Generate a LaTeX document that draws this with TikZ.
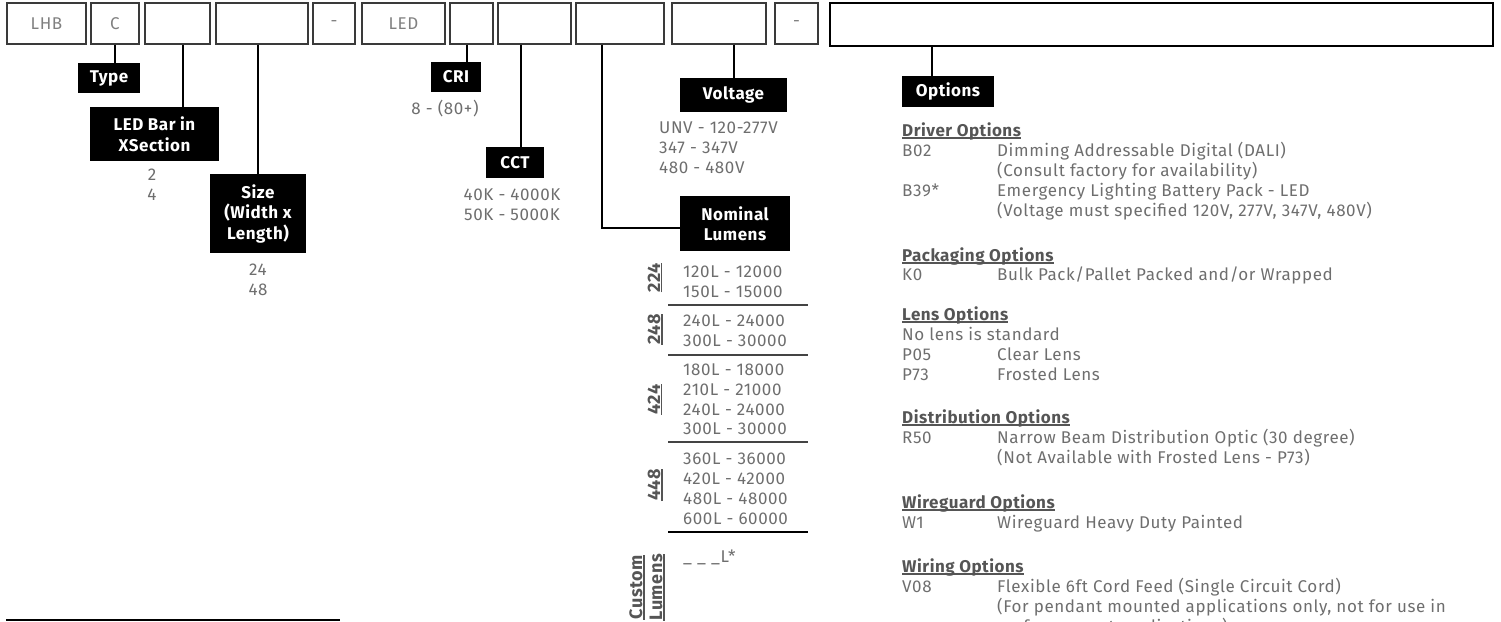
\documentclass[tikz,border=0pt]{standalone}
\usepackage{fontspec}
\setmainfont{Fira Sans}[LetterSpace=3]
\newfontfamily\bodyf{Fira Sans}[LetterSpace=3.5]
\definecolor{boxc}{HTML}{3A3A3A}
\definecolor{boxtxt}{HTML}{808080}
\definecolor{valc}{HTML}{6E6E6E}
\definecolor{headc}{HTML}{555555}
\definecolor{sepc}{HTML}{444444}
\begin{document}
\begin{tikzpicture}[x=1pt,y=-1pt,
  topbox/.style={draw=boxc, line width=1.3pt, minimum height=41pt, inner sep=0pt, text=boxtxt, font=\bodyf\fontsize{17}{20}\selectfont},
  lbl/.style={fill=black, text=white, font=\bfseries\fontsize{17}{20.5}\selectfont, align=center, inner sep=0pt},
  val/.style={text=valc, font=\bodyf\fontsize{17}{20}\selectfont, inner sep=0pt},
  hd/.style={text=headc, font=\bfseries\fontsize{17}{20}\selectfont, inner sep=0pt, anchor=base west},
  rot/.style={text=headc, font=\bfseries\fontsize{18}{20}\selectfont, inner sep=0pt, rotate=90},
  conn/.style={draw=black, line width=1.2pt},
  ul/.style={draw=headc, line width=1.2pt},
  sepline/.style={draw=sepc, line width=1.5pt}
]
\useasboundingbox (0,0) rectangle (1501,621);

% ---- top code boxes
\node[topbox, minimum width=79pt] (b1) at (46.5,23.5) {LHB};
\node[topbox, minimum width=48pt] (b2) at (115,23.5) {C};
\node[topbox, minimum width=65pt] (b3) at (177.5,23.5) {};
\node[topbox, minimum width=92pt] (b4) at (262,23.5) {};
\node[topbox, minimum width=42pt] (b5) at (334,23.5) {-};
\node[topbox, minimum width=83pt] (b6) at (403.5,23.5) {LED};
\node[topbox, minimum width=43pt] (b7) at (471.5,23.5) {};
\node[topbox, minimum width=73pt] (b8) at (534.5,23.5) {};
\node[topbox, minimum width=88pt] (b9) at (620,23.5) {};
\node[topbox, minimum width=94pt] (b10) at (719,23.5) {};
\node[topbox, minimum width=43pt] (b11) at (796.5,23.5) {-};
\node[topbox, draw=black, line width=1.8pt, minimum width=663pt, minimum height=43pt] (b12) at (1161.5,24.5) {};

% ---- black labels
\node[lbl, minimum width=62pt, minimum height=30pt] (type) at (109,78) {Type};
\node[lbl, minimum width=129pt, minimum height=54pt] (ledbar) at (154.5,134) {LED Bar in\\XSection};
\node[lbl, minimum width=96pt, minimum height=79pt] (size) at (258,213.5) {Size\\(Width x\\Length)};
\node[lbl, minimum width=50pt, minimum height=30pt] (cri) at (456,77) {CRI};
\node[lbl, minimum width=58pt, minimum height=31pt] (cct) at (515,162.5) {CCT};
\node[lbl, minimum width=107pt, minimum height=34pt] (volt) at (733.5,95) {Voltage};
\node[lbl, minimum width=110pt, minimum height=55pt] (lumens) at (735,223.5) {Nominal\\Lumens};
\node[lbl, minimum width=92pt, minimum height=31pt] (opt) at (948,91.5) {Options};

% ---- connectors
\path (b2.south) coordinate (c2);
\path (b3.south) ++(5.5,0) coordinate (c3);
\path (b4.south) ++(-4,0) coordinate (c4);
\path (b7.south) ++(-4.5,0) coordinate (c7);
\path (b8.south) ++(-13.5,0) coordinate (c8);
\path (b9.south) ++(-18,0) coordinate (c9);
\path (b10.south) ++(15,0) coordinate (c10);
\path (b12.south) ++(-229.5,0) coordinate (c12);
\draw[conn] (c2) -- (c2 |- type.north);
\draw[conn] (c3) -- (c3 |- ledbar.north);
\draw[conn] (c4) -- (c4 |- size.north);
\draw[conn] (c7) -- (c7 |- cri.north);
\draw[conn] (c8) -- (c8 |- cct.north);
\draw[conn] (c9) |- ([yshift=-4.5pt]lumens.west);
\draw[conn] (c10) -- (c10 |- volt.north);
\draw[conn] (c12) -- (c12 |- opt.north);

% ---- values
\node[val, anchor=base] (v2) at (152,180) {2};
\node[val, anchor=base] (v4) at (152,200) {4};
\node[val, anchor=base] (v24) at (258,275) {24};
\node[val, anchor=base] (v48) at (258,295) {48};
\node[val, anchor=base] (v8) at (445,114) {8 - (80+)};
\node[val, anchor=base] (v40) at (512,200) {40K - 4000K};
\node[val, anchor=base] (v50) at (512,220) {50K - 5000K};
\node[val, anchor=base west] (vu) at (659,133) {UNV - 120-277V};
\node[val, anchor=base west] (v347) at (659,153) {347 - 347V};
\node[val, anchor=base west] (v480) at (659,173) {480 - 480V};

% ---- lumens table
\node[val, anchor=base west] (l1) at (683,277) {120L - 12000};
\node[val, anchor=base west] (l2) at (683,297) {150L - 15000};
\node[val, anchor=base west] (l3) at (683,326) {240L - 24000};
\node[val, anchor=base west] (l4) at (683,346) {300L - 30000};
\node[val, anchor=base west] (l5) at (683,375) {180L - 18000};
\node[val, anchor=base west] (l6) at (683,395) {210L - 21000};
\node[val, anchor=base west] (l7) at (683,415) {240L - 24000};
\node[val, anchor=base west] (l8) at (683,434) {300L - 30000};
\node[val, anchor=base west] (l9) at (683,464) {360L - 36000};
\node[val, anchor=base west] (l10) at (683,484) {420L - 42000};
\node[val, anchor=base west] (l11) at (683,504) {480L - 48000};
\node[val, anchor=base west] (l12) at (683,524) {600L - 60000};
\node[val, anchor=base west] (l13) at (683,562) {\_ \_ \_L*};
\draw[sepline] (668,305) -- (808,305);
\draw[sepline] (668,355) -- (808,355);
\draw[sepline] (668,442) -- (808,442);
\draw[sepline, draw=black] (668,532) -- (808,532);

\node[rot, anchor=base] (r224) at (660,277.5) {224};
\node[rot, anchor=base] (r248) at (660,329.5) {248};
\node[rot, anchor=base] (r424) at (660,399.5) {424};
\node[rot, anchor=base] (r448) at (660,485) {448};
\node[rot, anchor=base east] (rcus) at (642,555) {Custom};
\node[rot, anchor=base east] (rlum) at (662,554) {Lumens};
\foreach \n in {r224,r248,r424,r448,rcus,rlum}{
  \draw[ul] ([xshift=1.5pt]\n.south west) -- ([xshift=1.5pt]\n.south east);
}

% ---- options text
\node[hd] (hdrv) at (902,136) {Driver Options};
\node[val, anchor=base west] (o1a) at (902,156) {B02};
\node[val, anchor=base west] (o1b) at (997,156) {Dimming Addressable Digital (DALI)};
\node[val, anchor=base west] (o1c) at (997,176) {(Consult factory for availability)};
\node[val, anchor=base west] (o2a) at (902,196) {B39*};
\node[val, anchor=base west] (o2b) at (997,196) {Emergency Lighting Battery Pack - LED};
\node[val, anchor=base west] (o2c) at (997,216) {(Voltage must specified 120V, 277V, 347V, 480V)};

\node[hd] (hpkg) at (902,261) {Packaging Options};
\node[val, anchor=base west] (o3a) at (902,280) {K0};
\node[val, anchor=base west] (o3b) at (997,280) {Bulk Pack/Pallet Packed and/or Wrapped};

\node[hd] (hlens) at (902,320) {Lens Options};
\node[val, anchor=base west] (o4) at (902,340) {No lens is standard};
\node[val, anchor=base west] (o5a) at (902,360) {P05};
\node[val, anchor=base west] (o5b) at (997,360) {Clear Lens};
\node[val, anchor=base west] (o6a) at (902,380) {P73};
\node[val, anchor=base west] (o6b) at (997,380) {Frosted Lens};

\node[hd] (hdist) at (902,423) {Distribution Options};
\node[val, anchor=base west] (o7a) at (902,443) {R50};
\node[val, anchor=base west] (o7b) at (997,443) {Narrow Beam Distribution Optic (30 degree)};
\node[val, anchor=base west] (o7c) at (997,463) {(Not Available with Frosted Lens - P73)};

\node[hd] (hwg) at (902,508) {Wireguard Options};
\node[val, anchor=base west] (o8a) at (902,528) {W1};
\node[val, anchor=base west] (o8b) at (997,528) {Wireguard Heavy Duty Painted};

\node[hd] (hwir) at (902,572) {Wiring Options};
\node[val, anchor=base west] (o9a) at (902,592) {V08};
\node[val, anchor=base west] (o9b) at (997,592) {Flexible 6ft Cord Feed (Single Circuit Cord)};
\node[val, anchor=base west] (o9c) at (997,612) {(For pendant mounted applications only, not for use in};
\begin{scope}
\clip (0,0) rectangle (1501,621);
\node[val, anchor=base west] (o9d) at (997,632) {surface mount applications)};
\end{scope}

\foreach \n in {hdrv,hpkg,hlens,hdist,hwg,hwir}{
  \draw[ul, line width=1.4pt] ([yshift=-2pt]\n.base west) -- ([yshift=-2pt]\n.base east);
}

% ---- footnote rule
\draw[line width=1.5pt] (6,620) -- (340,620);
\end{tikzpicture}
\end{document}
